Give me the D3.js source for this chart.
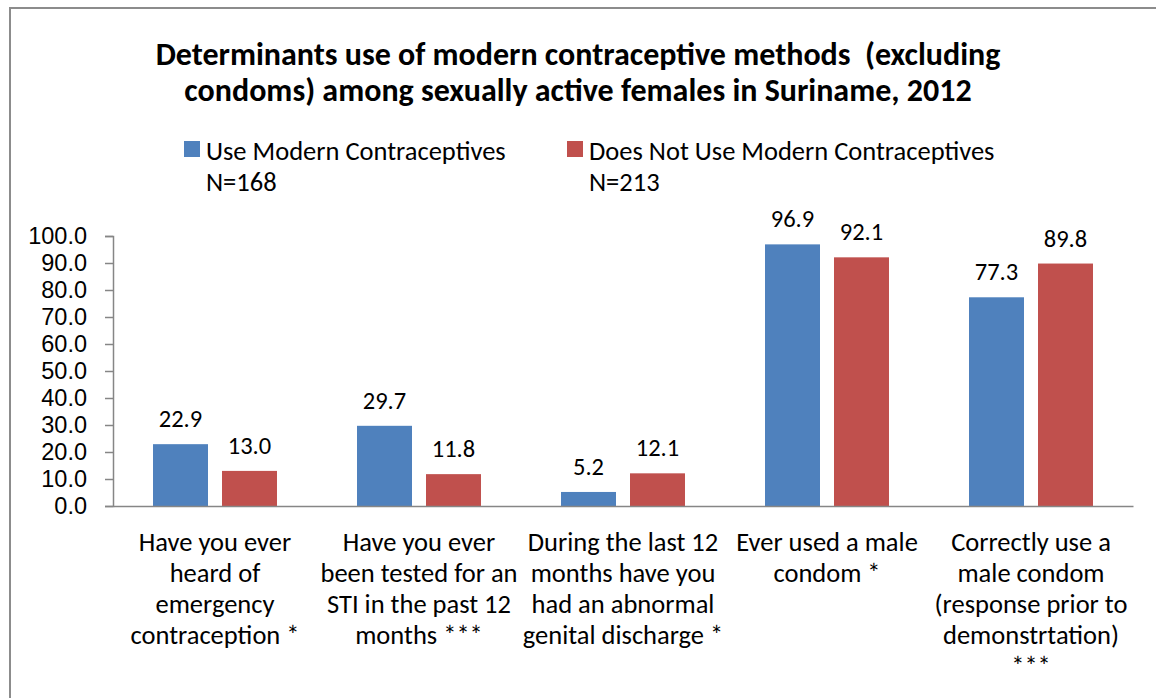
<!DOCTYPE html>
<html>
<head>
<meta charset="utf-8">
<script src="https://cdn.jsdelivr.net/npm/d3@7"></script>
<style>
  html, body { margin: 0; padding: 0; background: #fff; }
  svg { display: block; font-family: Calibri, Carlito, Lato, sans-serif; }
</style>
</head>
<body>
<script>
// data
const categories = [
  ['Have you ever', 'heard of', 'emergency', 'contraception *'],
  ['Have you ever', 'been tested for an', 'STI in the past 12', 'months ***'],
  ['During the last 12', 'months have you', 'had an abnormal', 'genital discharge *'],
  ['Ever used a male', 'condom *'],
  ['Correctly use a', 'male condom', '(response prior to', 'demonstrtation)', '***']
];
const seriesNames = ['Use Modern Contraceptives', 'Does Not Use Modern Contraceptives'];
const seriesN = ['N=168', 'N=213'];
const useValues = [22.9, 29.7, 5.2, 96.9, 77.3];
const notUseValues = [13.0, 11.8, 12.1, 92.1, 89.8];
const yTicks = [0, 10, 20, 30, 40, 50, 60, 70, 80, 90, 100];
const colors = ['#4F81BD', '#C0504D'];

const width = 1156, height = 698;
const margin = { top: 236, left: 113, right: 23, bottom: 192 };
const bodySize = 26.5;

const svg = d3.select('body').append('svg')
  .attr('width', width)
  .attr('height', height);

// chart area border
svg.append('rect')
  .attr('x', 10).attr('y', 8)
  .attr('width', 1300).attr('height', 900)
  .attr('fill', 'none')
  .attr('stroke', '#8c8c8c')
  .attr('stroke-width', 2);

// title
const title = svg.append('text')
  .attr('text-anchor', 'middle')
  .attr('font-weight', 'bold')
  .attr('font-size', 32)
  .style('white-space', 'pre')
  .attr('fill', '#000');
title.append('tspan').attr('x', width / 2).attr('y', 65)
  .text('Determinants use of modern contraceptive methods  (excluding');
title.append('tspan').attr('x', width / 2).attr('y', 101)
  .text('condoms) among sexually active females in Suriname, 2012');

// legend
const legendX = [184, 567];
seriesNames.forEach((name, i) => {
  const g = svg.append('g').attr('transform', `translate(${legendX[i]}, 0)`);
  g.append('rect')
    .attr('x', 0).attr('y', 141)
    .attr('width', 16).attr('height', 16)
    .attr('fill', colors[i]);
  g.append('text')
    .attr('x', 22).attr('y', 160)
    .attr('font-size', bodySize)
    .text(name);
  g.append('text')
    .attr('x', 22).attr('y', 191)
    .attr('font-size', bodySize)
    .text(seriesN[i]);
});

const x0 = d3.scaleBand()
  .domain(d3.range(categories.length))
  .range([margin.left, width - margin.right])
  .padding(0);

const x1 = d3.scaleBand()
  .domain([0, 1])
  .range([0, x0.bandwidth()])
  .paddingInner(0.203)
  .paddingOuter(0.58);

const y = d3.scaleLinear()
  .domain([0, 100])
  .range([height - margin.bottom, margin.top]);

const rows = categories.map((c, i) => ({ i, values: [useValues[i], notUseValues[i]] }));

const chartGroup = svg.append('g');

const groups = chartGroup.selectAll('g.cat')
  .data(rows)
  .enter().append('g')
    .attr('class', 'cat')
    .attr('transform', d => `translate(${x0(d.i)}, 0)`);

groups.selectAll('rect')
  .data(d => d.values.map((v, s) => ({ v, s })))
  .enter().append('rect')
    .attr('x', d => x1(d.s))
    .attr('y', d => y(d.v))
    .attr('width', x1.bandwidth())
    .attr('height', d => y(0) - y(d.v))
    .attr('fill', d => colors[d.s]);

groups.selectAll('text.value')
  .data(d => d.values.map((v, s) => ({ v, s })))
  .enter().append('text')
    .attr('class', 'value')
    .attr('text-anchor', 'middle')
    .attr('x', d => x1(d.s) + x1.bandwidth() / 2)
    .attr('y', d => y(d.v) - 17)
    .attr('font-size', 24.5)
    .text(d => d3.format('.1f')(d.v));

// y axis
const yAxis = d3.axisLeft(y)
  .tickValues(yTicks)
  .tickFormat(d3.format('.1f'))
  .tickSize(8)
  .tickPadding(18);

const yG = chartGroup.append('g')
  .attr('transform', `translate(${margin.left}, 0)`)
  .call(yAxis);
yG.selectAll('text').attr('font-size', 23.5).attr('fill', '#000').attr('font-family', null);
yG.selectAll('line').attr('stroke', '#868686').attr('stroke-width', 1.5);
yG.select('.domain').attr('stroke', '#868686').attr('stroke-width', 1.5);

// x axis
const xAxis = d3.axisBottom(x0).tickSize(0).tickFormat('');
const xG = chartGroup.append('g')
  .attr('transform', `translate(0, ${y(0)})`)
  .call(xAxis);
xG.select('.domain').attr('stroke', '#868686').attr('stroke-width', 1.5);

// category labels, wrapped as in the reference
const labels = chartGroup.append('g')
  .selectAll('text')
  .data(categories)
  .enter().append('text')
    .attr('text-anchor', 'middle')
    .attr('font-size', bodySize)
    .attr('fill', '#000');
labels.each(function (lines, i) {
  const cx = x0(i) + x0.bandwidth() / 2;
  d3.select(this).selectAll('tspan')
    .data(lines)
    .enter().append('tspan')
      .attr('x', cx)
      .attr('y', (d, k) => 551 + k * 31)
      .text(d => d);
});
</script>
</body>
</html>
